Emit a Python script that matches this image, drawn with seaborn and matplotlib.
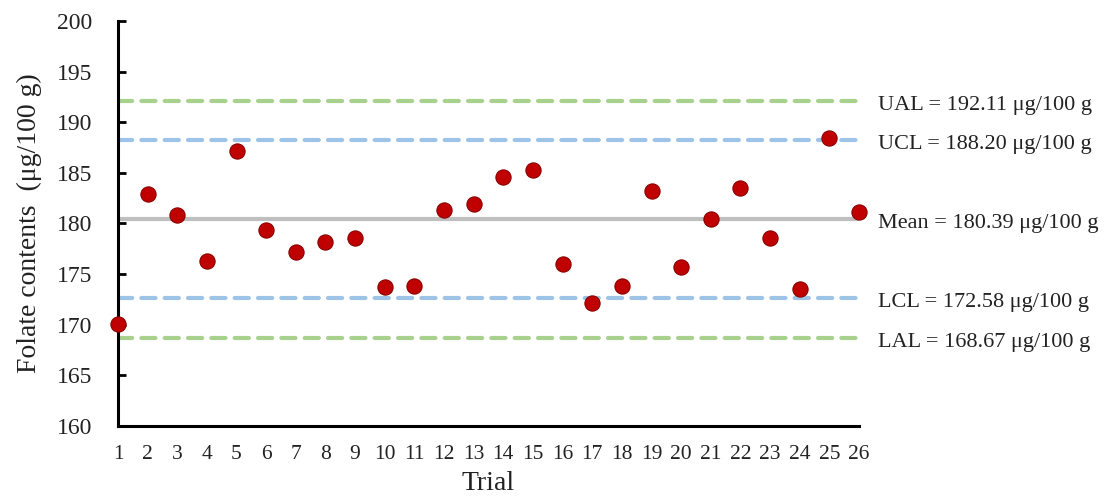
import matplotlib
matplotlib.use("Agg")
import matplotlib.pyplot as plt
import seaborn as sns
import pandas as pd

trials = list(range(1, 27))
folate = [170.1, 182.9, 180.85, 176.3, 187.2, 179.3, 177.2, 178.2, 178.6, 173.7,
          173.8, 181.3, 181.9, 184.6, 185.3, 176.0, 172.1, 173.8, 183.2, 175.7,
          180.4, 183.5, 178.6, 173.5, 188.4, 181.1]

ref_names = ["UAL", "UCL", "Mean", "LCL", "LAL"]
ref_values = [192.11, 188.20, 180.39, 172.58, 168.67]
ref_colors = ["#a9d18e", "#9dc3e6", "#bfbfbf", "#9dc3e6", "#a9d18e"]
ref_styles = ["dashed", "dashed", "solid", "dashed", "dashed"]

sns.set_theme(style="white")
plt.rcParams["font.family"] = ["Liberation Serif", "DejaVu Serif"]

fig = plt.figure(figsize=(11.11, 4.97), dpi=100)
ax = fig.add_axes([0.1062, 0.1435, 0.7732 - 0.1062, 0.9577 - 0.1435])

x0, x1 = trials[0], trials[-1]
for name, val, col, sty in zip(ref_names, ref_values, ref_colors, ref_styles):
    ln = ax.hlines(val, x0, x1, colors=col, linewidth=3.0, zorder=1)
    if sty == "dashed":
        ln.set_linestyle((0, (3.4, 2.2)))
        ln.set_capstyle("round")
    ax.annotate(f"{name} = {val:.2f} μg/100 g", xy=(x1, val), xytext=(14, -3),
                textcoords="offset points", ha="left", va="center",
                fontsize=16, color="#222222", annotation_clip=False)

df = pd.DataFrame({"Trial": trials, "Folate": folate})
sns.scatterplot(data=df, x="Trial", y="Folate", ax=ax, color="#c00000",
                edgecolor="#8b0000", linewidth=0.8, s=120, zorder=3, clip_on=False)

ax.set_xlim(x0, x1)
ax.set_ylim(160, 200)
ax.set_xticks(trials)
ax.set_xticklabels([str(t) for t in trials])
ax.set_yticks(range(160, 201, 5))

for s in ["top", "right"]:
    ax.spines[s].set_visible(False)
for s in ["left", "bottom"]:
    ax.spines[s].set_color("black")
    ax.spines[s].set_linewidth(2.2)

ax.tick_params(axis="y", direction="in", length=6, width=2, color="black",
               labelsize=17, pad=18.5, left=True, labelcolor="#222222")
ax.tick_params(axis="x", length=0, labelsize=15.5, pad=14, labelcolor="#222222")

ax.set_xlabel("Trial", fontsize=20, color="#222222", labelpad=5)
ax.set_ylabel("Folate contents  (μg/100 g)", fontsize=20, color="#222222", labelpad=11)

fig.savefig("out.png", dpi=100)
